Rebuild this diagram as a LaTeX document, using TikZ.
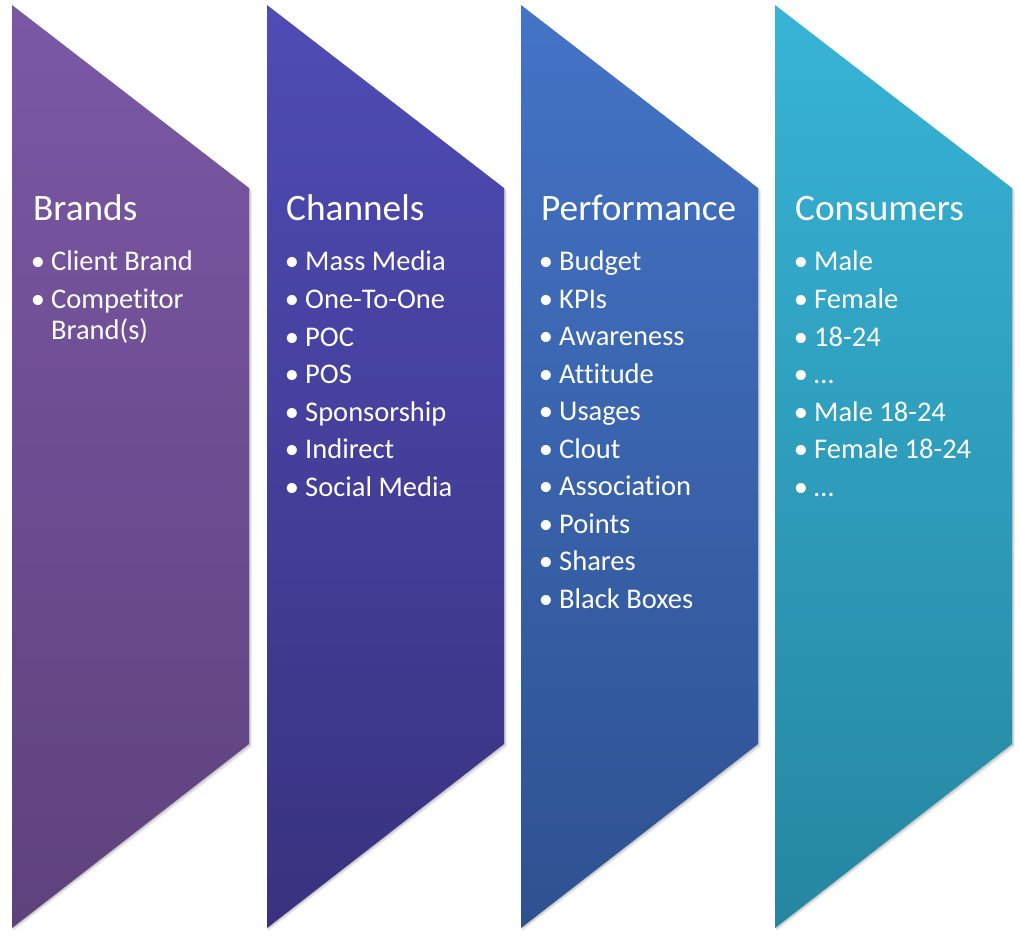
\documentclass[tikz,border=0pt]{standalone}
\usepackage{fontspec}
\setmainfont{Carlito}[Ligatures=NoCommon]
\definecolor{aTop}{HTML}{7B58A6}\definecolor{aBot}{HTML}{5E427C}
\definecolor{bTop}{HTML}{4F4CB5}\definecolor{bBot}{HTML}{39327F}
\definecolor{cTop}{HTML}{4474C7}\definecolor{cBot}{HTML}{2E5190}
\definecolor{dTop}{HTML}{37B4D7}\definecolor{dBot}{HTML}{2586A0}
\begin{document}
\begin{tikzpicture}[x=1pt,y=-1pt,
  ttl/.style={anchor=base west,inner sep=0pt,text=white,font=\fontsize{37.3}{40}\selectfont},
  itm/.style={anchor=base west,inner sep=0pt,text=white,font=\fontsize{28.5}{30}\selectfont},
  bul/.style={anchor=base,inner sep=0pt,text=white,font=\fontsize{28.5}{30}\selectfont}]
\useasboundingbox (0,0) rectangle (1020,941);
% shapes
\foreach \L/\ct/\cb/\n in {12/aTop/aBot/1,267/bTop/bBot/2,521/cTop/cBot/3,775/dTop/dBot/4}{
  \foreach \o/\op in {3/0.06,2/0.08,1/0.10}{
    \fill[black,opacity=\op] (\L+\o*0.5,5+\o) -- (\L+237+\o,188+\o) -- (\L+237+\o,744+\o) -- (\L+\o*0.5,928+\o) -- cycle;
  }
  \shade[top color=\ct,bottom color=\cb] (\L,5) -- (\L+237,188) -- (\L+237,744) -- (\L,928) -- cycle;
}
% titles
\node[ttl] (t1) at (33,221) {Brands};
\node[ttl] (t2) at (286,221) {Channels};
\node[ttl] (t3) at (541,221) {Performance};
\node[ttl] (t4) at (795,221) {Consumers};
% column 1
\node[bul] (b1-1) at (38,271) {•};
\node[itm] (i1-1) at (51,271) {Client Brand};
\node[bul] (b1-2) at (38,308.5) {•};
\node[itm] (i1-2) at (51,308.5) {Competitor};
\node[itm] (i1-2b) at (51,339.5) {Brand(s)};
% column 2
\foreach \t [count=\k] in {Mass Media,One-To-One,POC,POS,Sponsorship,Indirect,Social Media}{
  \node[bul] (b2-\k) at (292,{271+37.5*(\k-1)}) {•};
  \node[itm] (i2-\k) at (305,{271+37.5*(\k-1)}) {\t};
}
% column 3
\foreach \t [count=\k] in {Budget,KPIs,Awareness,Attitude,Usages,Clout,Association,Points,Shares,Black Boxes}{
  \node[bul] (b3-\k) at (546,{271+37.45*(\k-1)}) {•};
  \node[itm] (i3-\k) at (559,{271+37.45*(\k-1)}) {\t};
}
% column 4
\foreach \t [count=\k] in {Male,Female,18-24,…,Male 18-24,Female 18-24,…}{
  \node[bul] (b4-\k) at (801,{271+37.5*(\k-1)}) {•};
  \node[itm] (i4-\k) at (814,{271+37.5*(\k-1)}) {\t};
}
\end{tikzpicture}
\end{document}
